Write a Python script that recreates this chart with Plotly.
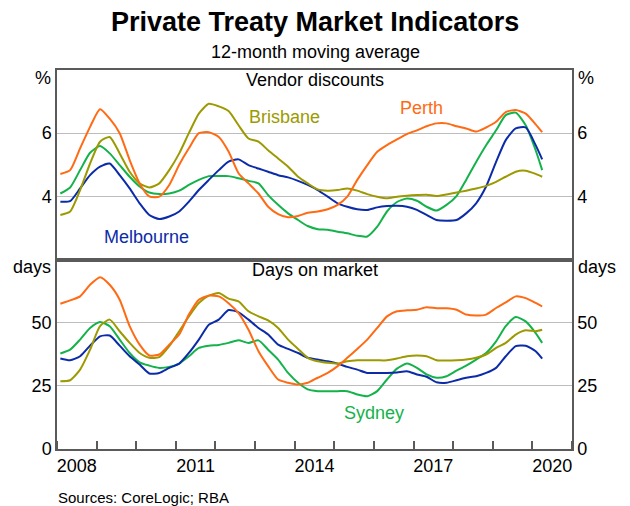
import pandas as pd
import plotly.graph_objects as go
from plotly.subplots import make_subplots

# Quarterly sample dates (Feb 2008 .. Feb 2020) plus final April 2020 observation
dates = list(pd.date_range("2008-02-01", periods=49, freq="3MS").strftime("%Y-%m-%d")) + ["2020-04-01"]

# Vendor discounts (%)
vd_perth = [4.71, 4.83, 5.52, 6.2, 6.76, 6.46, 6.0, 5.15, 4.41, 4.0, 3.99, 4.36, 5.0, 5.52, 6.0, 6.03, 5.88,
            5.42, 4.73, 4.41, 4.09, 3.67, 3.44, 3.34, 3.38, 3.48, 3.52, 3.59, 3.73, 3.99, 4.52, 4.99, 5.41,
            5.62, 5.8, 5.97, 6.09, 6.22, 6.31, 6.31, 6.22, 6.15, 6.05, 6.18, 6.36, 6.67, 6.73, 6.62, 6.28, 6.03]
vd_brisbane = [3.41, 3.52, 4.2, 5.04, 5.73, 5.88, 5.36, 4.78, 4.41, 4.28, 4.41, 4.83, 5.36, 6.0, 6.62, 6.93, 6.85,
               6.7, 6.25, 5.83, 5.73, 5.46, 5.2, 4.94, 4.62, 4.41, 4.22, 4.18, 4.2, 4.25, 4.18, 4.07, 3.99,
               3.94, 3.99, 4.02, 4.04, 4.05, 4.01, 4.06, 4.12, 4.18, 4.25, 4.33, 4.46, 4.62, 4.78, 4.81, 4.71, 4.62]
vd_sydney = [4.09, 4.28, 4.83, 5.38, 5.59, 5.36, 4.99, 4.62, 4.31, 4.12, 4.07, 4.09, 4.18, 4.36, 4.52, 4.64, 4.64,
             4.64, 4.57, 4.49, 4.41, 4.04, 3.73, 3.46, 3.25, 3.06, 2.96, 2.94, 2.88, 2.83, 2.75, 2.73, 3.04,
             3.52, 3.82, 3.93, 3.86, 3.67, 3.55, 3.73, 4.01, 4.52, 5.09, 5.62, 6.09, 6.57, 6.65, 6.25, 5.46, 4.83]
vd_melbourne = [3.83, 3.85, 4.25, 4.67, 4.94, 5.04, 4.67, 4.25, 3.78, 3.41, 3.28, 3.36, 3.52, 3.83, 4.2, 4.52, 4.83,
                5.1, 5.17, 4.99, 4.88, 4.78, 4.67, 4.6, 4.49, 4.36, 4.2, 3.99, 3.78, 3.67, 3.59, 3.57, 3.65,
                3.69, 3.7, 3.67, 3.57, 3.41, 3.25, 3.23, 3.25, 3.46, 3.78, 4.31, 5.09, 5.78, 6.15, 6.18, 5.62, 5.17]

# Days on market
dm_perth = [57.5, 58.8, 60.4, 65.0, 68.0, 65.0, 59.1, 48.6, 41.3, 37.0, 37.4, 41.3, 45.3, 53.2, 59.1, 60.7, 60.4,
            57.7, 53.8, 47.2, 38.7, 32.8, 27.5, 26.2, 25.5, 26.2, 28.2, 30.1, 32.8, 36.1, 39.6, 43.3, 47.9,
            52.5, 54.5, 54.9, 55.1, 56.1, 55.7, 55.7, 55.1, 53.2, 52.8, 53.2, 55.8, 58.0, 60.4, 59.7, 57.8, 56.4]
dm_brisbane = [26.8, 27.2, 31.4, 39.3, 48.6, 51.2, 46.6, 42.0, 38.0, 36.1, 36.4, 40.7, 46.6, 52.5, 57.8, 60.7, 61.7,
               59.5, 58.4, 54.5, 52.5, 50.9, 47.9, 43.3, 39.6, 36.1, 34.7, 34.1, 33.8, 34.7, 35.1, 35.1, 35.1,
               35.1, 35.8, 36.7, 37.0, 36.7, 35.1, 35.0, 35.1, 35.4, 36.1, 37.4, 40.0, 42.0, 45.3, 47.0, 46.6, 47.2]
dm_sydney = [37.8, 39.3, 43.3, 47.9, 50.3, 48.6, 43.3, 38.0, 34.3, 33.0, 32.1, 32.5, 33.8, 36.7, 40.0, 40.9, 41.2,
             42.0, 43.0, 42.0, 43.0, 39.3, 35.4, 30.1, 26.2, 23.6, 22.9, 22.9, 22.9, 22.9, 21.6, 20.9, 22.9,
             27.5, 31.8, 33.8, 32.1, 29.5, 28.2, 28.8, 31.0, 33.0, 35.4, 38.0, 42.6, 48.6, 52.2, 50.5, 45.9, 42.0]
dm_melbourne = [35.8, 35.1, 36.7, 40.9, 44.6, 44.9, 40.9, 36.7, 33.4, 29.9, 30.1, 32.1, 33.8, 38.0, 43.3, 49.2, 51.2,
                55.0, 54.1, 51.2, 47.9, 45.3, 41.3, 39.6, 38.0, 36.1, 35.4, 34.7, 33.8, 32.5, 31.4, 30.1, 30.1,
                30.1, 30.3, 30.8, 29.5, 28.6, 26.4, 26.2, 27.2, 28.2, 28.8, 30.1, 32.1, 36.7, 40.7, 40.9, 38.7, 35.8]

# Axis ticks / labels
year_labels = ["2008", "2011", "2014", "2017", "2020"]
year_label_pos = ["2008-07-02", "2011-07-02", "2014-07-02", "2017-07-02", "2020-07-02"]
vd_ticks = [4, 6]
dm_ticks = [0, 25, 50]

C_PERTH = "#FF6A13"
C_BRIS = "#9C9A00"
C_SYD = "#14B24A"
C_MEL = "#0B2BA8"
FONT = "Liberation Sans, Arial, sans-serif"
GRID = "#BDBDBD"
AXLINE = "#5A5A5A"

fig = make_subplots(rows=2, cols=1, shared_xaxes=False, vertical_spacing=0,
                    specs=[[{"secondary_y": True}], [{"secondary_y": True}]])

for row, series in [(1, [(vd_sydney, C_SYD), (vd_melbourne, C_MEL), (vd_brisbane, C_BRIS), (vd_perth, C_PERTH)]),
                    (2, [(dm_sydney, C_SYD), (dm_melbourne, C_MEL), (dm_brisbane, C_BRIS), (dm_perth, C_PERTH)])]:
    for vals, col in series:
        fig.add_trace(go.Scatter(x=dates, y=vals, mode="lines",
                                 line=dict(color=col, width=2, shape="spline", smoothing=0.6),
                                 showlegend=False, hoverinfo="skip"), row=row, col=1, secondary_y=False)
    # transparent copy so the right-hand (mirrored) axis is drawn
    fig.add_trace(go.Scatter(x=dates, y=series[0][0], mode="lines", line=dict(color="rgba(0,0,0,0)", width=0),
                             showlegend=False, hoverinfo="skip"), row=row, col=1, secondary_y=True)

xr = ["2008-01-01", "2021-01-01"]
common_x = dict(type="date", range=xr, domain=[0, 1], showgrid=False, zeroline=False, showline=True,
                linecolor=AXLINE, linewidth=1.5, mirror=True, tickvals=year_label_pos, ticktext=year_labels,
                ticks="", automargin=False, tickfont=dict(family=FONT, size=18, color="black"))
fig.update_xaxes(**common_x, showticklabels=False, row=1, col=1)
fig.update_xaxes(**common_x, showticklabels=True, row=2, col=1,
                 minor=dict(ticks="inside", ticklen=8, tickcolor=AXLINE, tickwidth=1.5,
                            dtick="M12", tick0="2008-01-01", showgrid=False))

ycommon = dict(showgrid=True, gridcolor=GRID, gridwidth=1.2, zeroline=False, showline=True, linecolor=AXLINE,
               linewidth=1.5, ticks="", automargin=False, tickfont=dict(family=FONT, size=18, color="black"))
fig.update_yaxes(**ycommon, range=[2, 8], tickvals=vd_ticks, row=1, col=1, secondary_y=False)
fig.update_yaxes(**ycommon, range=[2, 8], tickvals=vd_ticks, row=1, col=1, secondary_y=True)
fig.update_yaxes(**ycommon, range=[0, 75], tickvals=dm_ticks, row=2, col=1, secondary_y=False)
fig.update_yaxes(**ycommon, range=[0, 75], tickvals=dm_ticks, row=2, col=1, secondary_y=True)
fig.layout.yaxis2.showgrid = False
fig.layout.yaxis4.showgrid = False

# page body has an 8px margin, so the figure is 8px smaller than the window
OFF = 8
W, H = 630 - OFF, 506 - OFF
ML, MR, MT, MB = 57 - OFF, 58, 70 - OFF, 57
pw, ph = W - ML - MR, H - MT - MB


def px(x):  # screen pixel -> paper x
    return (x - 57) / pw


def py(y):  # screen pixel -> paper y
    return (449 - y) / ph


anns = [
    ("Vendor discounts", 315, 80, "center", "black", 18),
    ("Days on market", 315, 270, "center", "black", 18),
    ("Brisbane", 284, 117, "center", C_BRIS, 18),
    ("Perth", 421, 108, "center", C_PERTH, 18),
    ("Melbourne", 146, 237, "center", C_MEL, 18),
    ("Sydney", 374, 413, "center", C_SYD, 18),
    ("%", 53, 78, "right", "black", 18),
    ("%", 576, 78, "left", "black", 18),
    ("days", 53, 267, "right", "black", 18),
    ("days", 576, 267, "left", "black", 18),
]
for text, x, y, anchor, col, size in anns:
    fig.add_annotation(text=text, xref="paper", yref="paper", x=px(x), y=py(y), xanchor=anchor, yanchor="middle",
                       showarrow=False, font=dict(family=FONT, size=size, color=col))

fig.add_annotation(text="<b>Private Treaty Market Indicators</b>", xref="paper", yref="paper", x=px(315), y=py(22),
                   xanchor="center", yanchor="middle", showarrow=False,
                   font=dict(family=FONT, size=27, color="black"))
fig.add_annotation(text="12-month moving average", xref="paper", yref="paper", x=px(315), y=py(52),
                   xanchor="center", yanchor="middle", showarrow=False,
                   font=dict(family=FONT, size=18, color="black"))
fig.add_annotation(text="Sources: CoreLogic; RBA", xref="paper", yref="paper", x=px(56), y=py(497),
                   xanchor="left", yanchor="middle", showarrow=False,
                   font=dict(family=FONT, size=15, color="black"))

fig.update_layout(width=W, height=H, margin=dict(l=ML, r=MR, t=MT, b=MB),
                  paper_bgcolor="white", plot_bgcolor="white", showlegend=False)

fig.write_html("out.html")
